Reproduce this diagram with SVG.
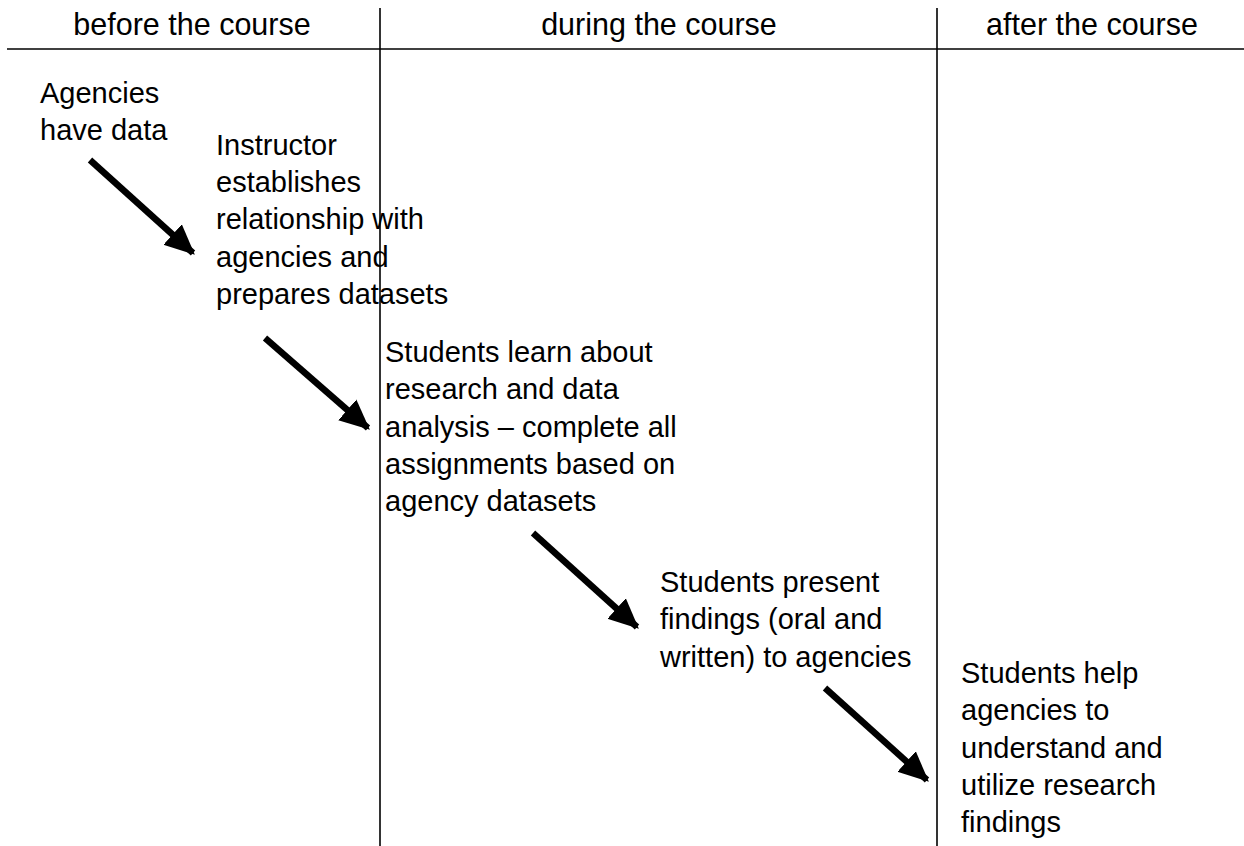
<svg xmlns="http://www.w3.org/2000/svg" width="1244" height="846" viewBox="0 0 1244 846">
<style>
text{font-family:"Liberation Sans",Arial,sans-serif;font-size:29px;fill:#000}
.h{font-size:30.5px;text-anchor:middle}
.rule{stroke:#000;stroke-width:1.6;fill:none}
.arr{stroke:#000;stroke-width:6.5;fill:none;marker-end:url(#ah)}
</style>
<defs>
<marker id="ah" markerUnits="userSpaceOnUse" markerWidth="30" markerHeight="30" viewBox="0 0 24 24" refX="22" refY="12" orient="auto">
<path d="M0,1 L24,12 L0,23 Z" fill="#000"/>
</marker>
</defs>
<g id="grid">
<line class="rule" x1="7" y1="49" x2="1244" y2="49"/>
<line class="rule" x1="380" y1="8" x2="380" y2="846"/>
<line class="rule" x1="937" y1="8" x2="937" y2="846"/>
</g>
<g id="headers">
<text class="h" x="192" y="35">before the course</text>
<text class="h" x="659" y="35">during the course</text>
<text class="h" x="1092" y="35">after the course</text>
</g>
<g id="n1"><text x="40" y="103"><tspan x="40">Agencies</tspan><tspan x="40" dy="37">have data</tspan></text></g>
<g id="n2"><text y="155"><tspan x="216">Instructor</tspan><tspan x="216" dy="37.2">establishes</tspan><tspan x="216" dy="37.2">relationship with</tspan><tspan x="216" dy="37.2">agencies and</tspan><tspan x="216" dy="37.2">prepares datasets</tspan></text></g>
<g id="n3"><text y="362"><tspan x="385">Students learn about</tspan><tspan x="385" dy="37.3">research and data</tspan><tspan x="385" dy="37.3">analysis – complete all</tspan><tspan x="385" dy="37.3">assignments based on</tspan><tspan x="385" dy="37.3">agency datasets</tspan></text></g>
<g id="n4"><text y="592"><tspan x="660">Students present</tspan><tspan x="660" dy="37.3">findings (oral and</tspan><tspan x="660" dy="37.3">written) to agencies</tspan></text></g>
<g id="n5"><text y="683"><tspan x="961">Students help</tspan><tspan x="961" dy="37.3">agencies to</tspan><tspan x="961" dy="37.3">understand and</tspan><tspan x="961" dy="37.3">utilize research</tspan><tspan x="961" dy="37.3">findings</tspan></text></g>
<g id="connectors">
<line class="arr" x1="90" y1="160" x2="193" y2="253"/>
<line class="arr" x1="265" y1="338" x2="368" y2="428"/>
<line class="arr" x1="533" y1="533" x2="637" y2="627"/>
<line class="arr" x1="825" y1="688" x2="927" y2="780"/>
</g>
</svg>
